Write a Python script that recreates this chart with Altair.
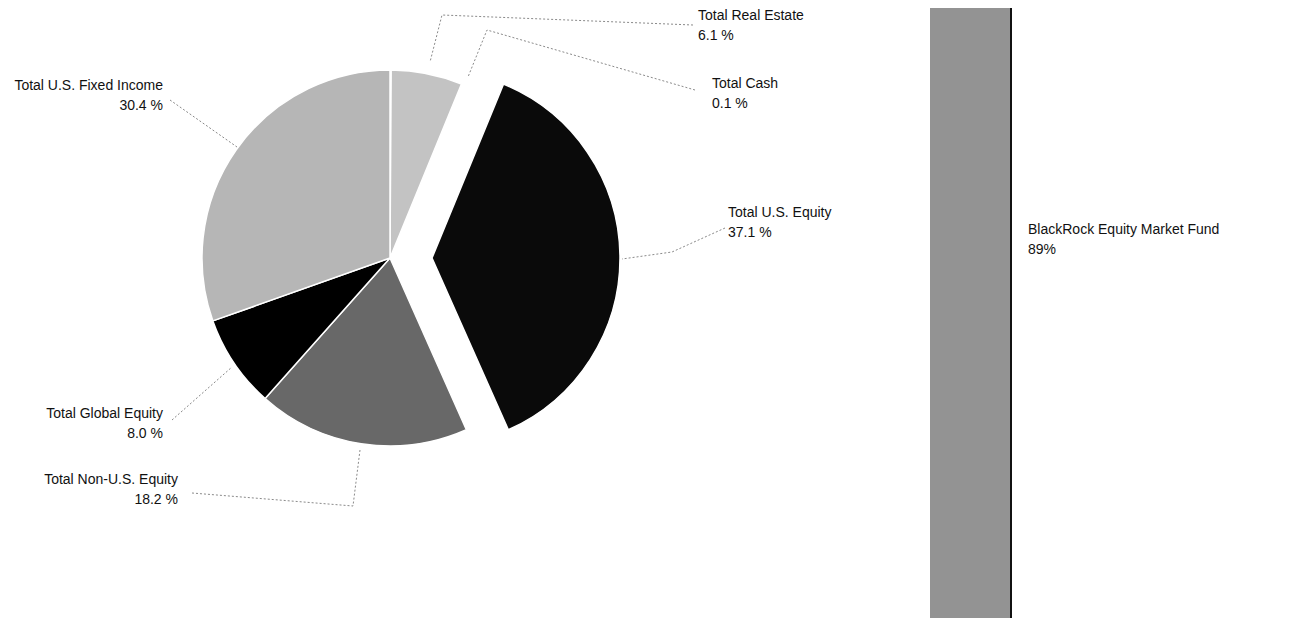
import altair as alt
import pandas as pd

# ---- data ----
categories = ["Total Cash", "Total Real Estate", "Total U.S. Equity",
              "Total Non-U.S. Equity", "Total Global Equity", "Total U.S. Fixed Income"]
shares = [0.1, 6.1, 37.1, 18.2, 8.0, 30.4]
slice_colors = ["#161616", "#c3c3c3", "#0a0a0a", "#686868", "#000000", "#b6b6b6"]
exploded = "Total U.S. Equity"

fund_names = ["BlackRock Equity Market Fund"]
fund_shares = [89]

# ---- layout (page pixels) ----
M = 8  # page margin
PIE_CX, PIE_CY, PIE_R = 390, 258, 188
EXPLODE_DX = 42
BAR_X0, BAR_X1 = 930, 1011
BAR_TOP, BAR_BOTTOM = 8, 618
FONT = "Liberation Sans"
FS = 14

# label anchor (x, y of first line, align) per category
label_layout = {
    "Total Real Estate": (698, 16, "left"),
    "Total Cash": (712, 84, "left"),
    "Total U.S. Equity": (728, 213, "left"),
    "Total U.S. Fixed Income": (163, 86, "right"),
    "Total Global Equity": (163, 414, "right"),
    "Total Non-U.S. Equity": (178, 480, "right"),
}
leader_layout = {
    "Total Real Estate": [(693, 25), (442, 15), (430, 62)],
    "Total Cash": [(695, 90), (487, 30), (468, 77)],
    "Total U.S. Equity": [(725, 228), (672, 252), (622, 259)],
    "Total U.S. Fixed Income": [(170, 100), (237, 147)],
    "Total Global Equity": [(172, 420), (232, 367)],
    "Total Non-U.S. Equity": [(192, 493), (353, 506), (360, 450)],
}
LINE_GAP = 20

pie_df = pd.DataFrame({
    "category": categories,
    "value": shares,
    "order": list(range(len(categories))),
})

color_scale = alt.Scale(domain=categories, range=slice_colors)

base_pie = alt.Chart(pie_df).encode(
    theta=alt.Theta("value:Q", stack=True),
    order=alt.Order("order:Q"),
    color=alt.Color("category:N", scale=color_scale, legend=None),
)

pie_main = base_pie.mark_arc(radius=PIE_R, stroke="white", strokeWidth=1.5).encode(
    x=alt.value(PIE_CX - M), y=alt.value(PIE_CY - M),
    opacity=alt.condition(alt.datum.category == exploded, alt.value(0), alt.value(1)),
)
pie_expl = base_pie.mark_arc(radius=PIE_R, stroke="white", strokeWidth=1.5).encode(
    x=alt.value(PIE_CX - M + EXPLODE_DX), y=alt.value(PIE_CY - M),
    opacity=alt.condition(alt.datum.category == exploded, alt.value(1), alt.value(0)),
)

# labels
lab_rows = []
for cat, val in zip(categories, shares):
    lx, ly, al = label_layout[cat]
    lab_rows.append({"x": lx - M, "y": ly - M, "text": cat, "align": al})
    lab_rows.append({"x": lx - M, "y": ly - M + LINE_GAP, "text": f"{val:.1f} %", "align": al})
for name, val in zip(fund_names, fund_shares):
    lab_rows.append({"x": 1028 - M, "y": 230 - M, "text": name, "align": "left"})
    lab_rows.append({"x": 1028 - M, "y": 250 - M, "text": f"{val}%", "align": "left"})
lab_df = pd.DataFrame(lab_rows)

labels_left = alt.Chart(lab_df[lab_df["align"] == "left"]).mark_text(
    align="left", baseline="middle", font=FONT, fontSize=FS, color="#111111"
).encode(x=alt.X("x:Q", scale=None, axis=None), y=alt.Y("y:Q", scale=None, axis=None), text="text:N")
labels_right = alt.Chart(lab_df[lab_df["align"] == "right"]).mark_text(
    align="right", baseline="middle", font=FONT, fontSize=FS, color="#111111"
).encode(x=alt.X("x:Q", scale=None, axis=None), y=alt.Y("y:Q", scale=None, axis=None), text="text:N")

# leader lines
lead_rows = []
for cat in categories:
    for i, (px, py) in enumerate(leader_layout[cat]):
        lead_rows.append({"cat": cat, "i": i, "x": px - M, "y": py - M})
lead_df = pd.DataFrame(lead_rows)
leaders = alt.Chart(lead_df).mark_line(
    color="#8a8a8a", strokeWidth=1, strokeDash=[2, 2]
).encode(
    x=alt.X("x:Q", scale=None, axis=None),
    y=alt.Y("y:Q", scale=None, axis=None),
    detail="cat:N",
    order="i:Q",
)

# bar
bar_df = pd.DataFrame({"fund": fund_names, "start": [0] * len(fund_names), "share": fund_shares})
bar_y = alt.Scale(domain=[0, 89], range=[BAR_BOTTOM - M, BAR_TOP - M])
bar = alt.Chart(bar_df).mark_bar(color="#939393").encode(
    x=alt.value(BAR_X0 - M), x2=alt.value(BAR_X1 - M),
    y=alt.Y("start:Q", scale=bar_y, axis=None), y2="share:Q",
)
bar_edge = alt.Chart(bar_df).mark_rule(color="#111111", strokeWidth=2).encode(
    x=alt.value(BAR_X1 - M),
    y=alt.Y("start:Q", scale=bar_y, axis=None), y2="share:Q",
)

chart = alt.layer(
    leaders, pie_main, pie_expl, bar, bar_edge, labels_left, labels_right
).resolve_scale(y="independent", x="independent").properties(
    width=1299, height=603,
    autosize=alt.AutoSizeParams(type="none"),
    padding={"left": 0, "top": 0, "right": 0, "bottom": 8},
    background="white",
).configure_view(stroke=None)

chart.save("out.html", embed_options={"renderer": "svg", "actions": False})
